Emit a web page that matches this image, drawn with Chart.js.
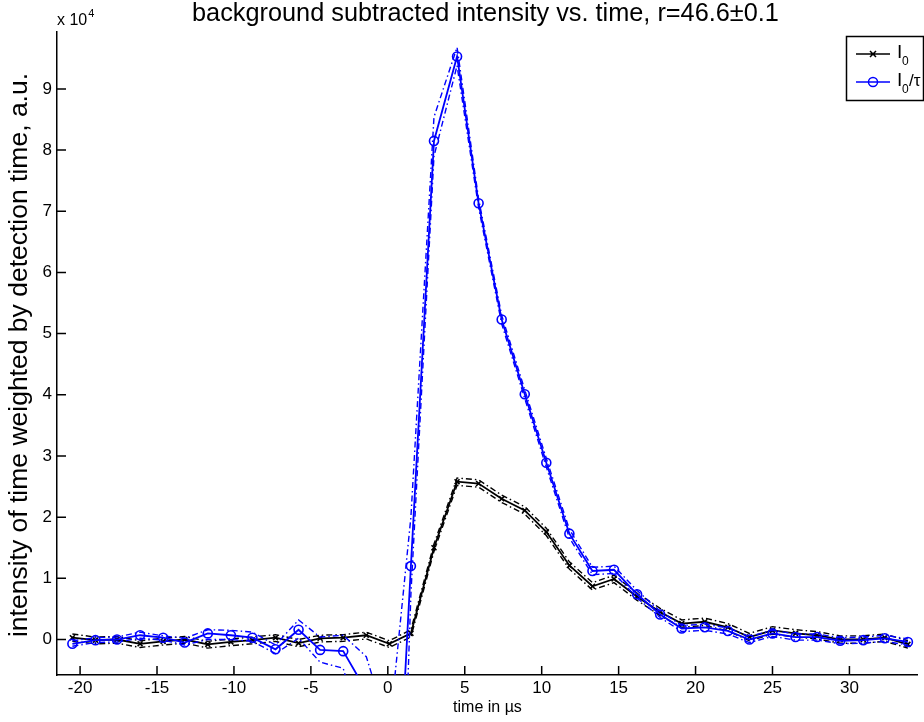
<!DOCTYPE html>
<html>
<head>
<meta charset="utf-8">
<script src="https://cdn.jsdelivr.net/npm/chart.js@4"></script>
<style>
  html, body { margin: 0; padding: 0; background: #fff; }
  #chart { display: block; }
</style>
</head>
<body>
<canvas id="chart" width="924" height="722"></canvas>
<script>
// time axis (µs) of each sample
const timeUs = [-20.5, -19.0, -17.6, -16.1, -14.6, -13.2, -11.7, -10.2, -8.8, -7.3,
  -5.8, -4.4, -2.9, -1.4, 0.1, 1.5, 3.0, 4.5, 5.9, 7.4,
  8.9, 10.3, 11.8, 13.3, 14.7, 16.2, 17.7, 19.1, 20.6, 22.1,
  23.5, 25.0, 26.5, 27.9, 29.4, 30.9, 32.3, 33.8];

// I0 with its upper / lower bounds
const i0Mean = [300, -100, 0, -700, -300, 0, -800, -400, -100, 300,
  -600, 200, 300, 700, -700, 1000, 15000, 25800, 25500, 23000,
  21100, 17600, 12100, 8700, 9900, 7000, 4500, 2600, 2900, 2000,
  400, 1500, 1000, 700, 0, 0, 300, -800];
const i0Upper = [900, 400, 500, -200, 200, 500, -300, 100, 400, 800,
  0, 700, 800, 1200, -200, 1600, 15600, 26400, 26100, 23600,
  21700, 18200, 12700, 9300, 10500, 7600, 5100, 3200, 3500, 2600,
  1000, 2100, 1600, 1300, 600, 600, 900, -200];
const i0Lower = [-300, -700, -600, -1300, -900, -600, -1400, -1000, -700, -300,
  -1200, -400, -300, 100, -1300, 400, 14400, 25200, 24900, 22400,
  20500, 17000, 11500, 8100, 9300, 6400, 3900, 2000, 2300, 1400,
  -200, 900, 400, 100, -600, -600, -300, -1400];

// I0/tau with its upper / lower bounds
const i0TauMean = [-700, -100, 0, 700, 300, -500, 1000, 700, 300, -1600,
  1600, -1700, -1900, -8400, -54700, 12000, 81500, 95300, 71300, 52300,
  40100, 28900, 17300, 11200, 11400, 7400, 4100, 1800, 2000, 1400,
  0, 1000, 400, 400, -200, -100, 200, -400];
const i0TauUpper = [-200, 300, 400, 1200, 600, 200, 1600, 1500, 1200, -900,
  3200, 400, 700, -2800, -15000, 20000, 85400, 96800, 72000, 53000,
  40800, 29600, 18000, 11800, 12000, 8000, 4600, 2300, 2500, 1900,
  500, 1500, 900, 900, 300, 400, 700, 100];
const i0TauLower = [-1100, -500, -400, 200, -100, -900, 0, 0, -300, -2300,
  200, -3700, -4700, -18000, -95000, 7400, 79000, 93800, 70600, 51600,
  39400, 28200, 16600, 10600, 10800, 6800, 3600, 1300, 1500, 900,
  -500, 500, -100, -100, -700, -600, -300, -900];

const xTicks = [-20, -15, -10, -5, 0, 5, 10, 15, 20, 25, 30];
const yTicks = [0, 10000, 20000, 30000, 40000, 50000, 60000, 70000, 80000, 90000];

const titleText = "background subtracted intensity vs. time, r=46.6\u00b10.1";
const yLabelText = "intensity of time weighted by detection time, a.u.";
const fontFamily = "'Liberation Sans', Arial, sans-serif";
const blue = "rgb(0,0,255)";
const dashDot = [6, 3, 1.5, 3];

function pts(values) {
  return timeUs.map((t, i) => ({ x: t, y: values[i] }));
}

function boundLine(values, color) {
  return {
    data: pts(values),
    borderColor: color,
    borderWidth: 1.4,
    borderDash: dashDot,
    pointRadius: 0,
    fill: false,
    tension: 0
  };
}

// inward ticks, title, y label, exponent and the boxed legend (MATLAB look)
const matlabLook = {
  id: "matlabLook",
  afterDraw(chart) {
    const { ctx, chartArea: a, scales } = chart;
    ctx.save();
    ctx.strokeStyle = "#000";
    ctx.lineWidth = 1.5;
    ctx.setLineDash([]);
    ctx.beginPath();
    xTicks.forEach((v) => {
      const px = scales.x.getPixelForValue(v);
      ctx.moveTo(px, a.bottom);
      ctx.lineTo(px, a.bottom - 9);
    });
    yTicks.forEach((v) => {
      const py = scales.y.getPixelForValue(v);
      ctx.moveTo(a.left, py);
      ctx.lineTo(a.left + 9, py);
    });
    ctx.stroke();

    ctx.fillStyle = "#000";
    ctx.textAlign = "left";
    ctx.textBaseline = "alphabetic";
    ctx.font = "25.3px " + fontFamily;
    ctx.fillText(titleText, 192, 21);

    // y label, rotated
    ctx.save();
    ctx.translate(27, 355);
    ctx.rotate(-Math.PI / 2);
    ctx.textAlign = "center";
    ctx.font = "26.5px " + fontFamily;
    ctx.fillText(yLabelText, 0, 0);
    ctx.restore();

    ctx.font = "16px " + fontFamily;
    ctx.fillText("x 10", 57, 25);
    const w = ctx.measureText("x 10").width;
    ctx.font = "11px " + fontFamily;
    ctx.fillText("4", 57 + w + 1, 17);

    // legend box
    ctx.fillStyle = "#fff";
    ctx.fillRect(846.5, 36.5, 77, 64);
    ctx.strokeRect(846.5, 36.5, 77, 64);

    // I0 entry
    ctx.strokeStyle = "#000";
    ctx.lineWidth = 1.5;
    ctx.beginPath();
    ctx.moveTo(856, 54); ctx.lineTo(890, 54);
    ctx.moveTo(870, 51); ctx.lineTo(876, 57);
    ctx.moveTo(876, 51); ctx.lineTo(870, 57);
    ctx.stroke();

    // I0/tau entry
    ctx.strokeStyle = blue;
    ctx.beginPath();
    ctx.moveTo(856, 82); ctx.lineTo(890, 82);
    ctx.stroke();
    ctx.beginPath();
    ctx.arc(873, 82, 4.5, 0, Math.PI * 2);
    ctx.stroke();

    ctx.fillStyle = "#000";
    ctx.font = "19px " + fontFamily;
    ctx.fillText("I", 897, 58);
    ctx.fillText("I", 897, 86);
    ctx.font = "12px " + fontFamily;
    ctx.fillText("0", 902, 65);
    ctx.fillText("0", 902, 93);
    ctx.font = "17px " + fontFamily;
    ctx.fillText("/\u03c4", 909, 86);
    ctx.restore();
  }
};

Chart.defaults.font.family = fontFamily;
Chart.defaults.color = "#000";

new Chart(document.getElementById("chart"), {
  type: "line",
  data: {
    datasets: [
      {
        data: pts(i0TauMean),
        borderColor: blue,
        borderWidth: 1.8,
        pointStyle: "circle",
        pointRadius: 4.5,
        pointBorderWidth: 1.6,
        pointBackgroundColor: "rgba(0,0,0,0)",
        pointBorderColor: blue,
        fill: false,
        tension: 0
      },
      boundLine(i0TauUpper, blue),
      boundLine(i0TauLower, blue),
      {
        data: pts(i0Mean),
        borderColor: "#000",
        borderWidth: 1.8,
        pointStyle: "crossRot",
        pointRadius: 3.5,
        pointBorderWidth: 1.6,
        pointBorderColor: "#000",
        fill: false,
        tension: 0
      },
      boundLine(i0Upper, "#000"),
      boundLine(i0Lower, "#000")
    ]
  },
  options: {
    responsive: false,
    animation: false,
    devicePixelRatio: 1,
    layout: { padding: { top: 32, left: 0, right: 0, bottom: 0 } },
    plugins: {
      legend: { display: false },
      tooltip: { enabled: false },
      title: { display: false }
    },
    scales: {
      x: {
        type: "linear",
        min: -21.5,
        max: 34.45,
        afterBuildTicks: (s) => { s.ticks = xTicks.map((v) => ({ value: v })); },
        afterFit: (s) => { s.height = 47; },
        grid: { display: false, drawTicks: false },
        border: { display: true, color: "#000", width: 1.5 },
        ticks: { font: { size: 17 }, padding: 3, maxRotation: 0 },
        title: {
          display: true,
          text: "time in \u00b5s",
          font: { size: 16 },
          padding: { top: 0, bottom: 5 }
        }
      },
      y: {
        type: "linear",
        min: -5800,
        max: 99300,
        afterBuildTicks: (s) => { s.ticks = yTicks.map((v) => ({ value: v })); },
        afterFit: (s) => { s.width = 57; },
        grid: { display: false, drawTicks: false },
        border: { display: true, color: "#000", width: 1.5 },
        ticks: {
          font: { size: 17 },
          padding: 5,
          callback: (v) => String(v / 10000)
        }
      }
    }
  },
  plugins: [matlabLook]
});
</script>
</body>
</html>
